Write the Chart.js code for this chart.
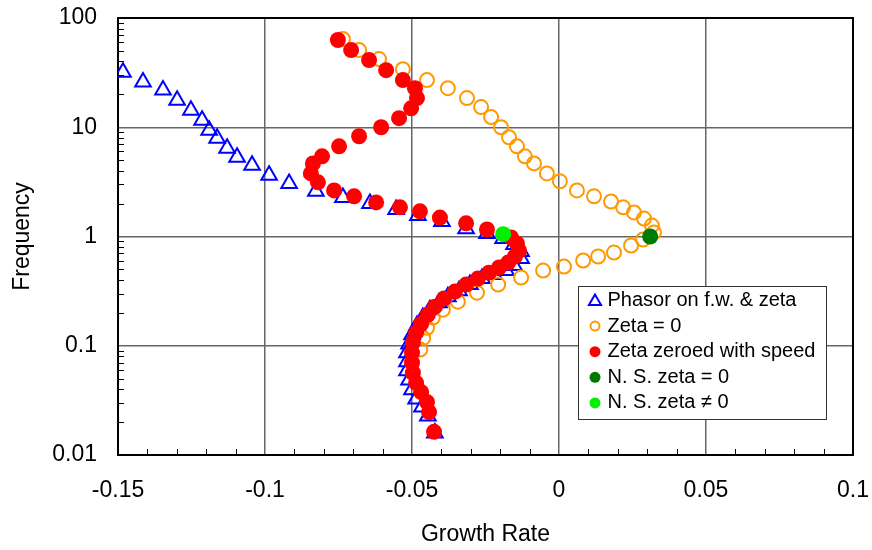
<!DOCTYPE html>
<html><head><meta charset="utf-8">
<script src="https://cdn.jsdelivr.net/npm/chart.js@4"></script>
<style>html,body{margin:0;padding:0;background:#fff}#wrap{width:872px;height:550px;position:relative}</style>
</head><body><div id="wrap"><canvas id="c" width="872" height="550"></canvas></div>
<script>
// ---- data ----
const seriesNames = ['Phasor on f.w. & zeta', 'Zeta = 0', 'Zeta zeroed with speed', 'N. S. zeta = 0', 'N. S. zeta \u2260 0'];
const xTickValues = [-0.15, -0.1, -0.05, 0, 0.05, 0.1];
const xTickLabels = ['-0.15', '-0.1', '-0.05', '0', '0.05', '0.1'];
const yTickValues = [0.01, 0.1, 1, 10, 100];
const yTickLabels = ['0.01', '0.1', '1', '10', '100'];
const xTitle = 'Growth Rate';
const yTitle = 'Frequency';

const phasorX = [-0.1483,-0.1415,-0.1347,-0.1299,-0.1252,-0.1214,-0.1190,-0.1163,-0.1129,-0.1095,-0.1044,-0.0986,-0.0918,-0.0827,-0.0735,-0.0643,-0.0554,-0.0480,-0.0398,-0.0316,-0.0245,-0.0190,-0.0153,-0.0129,-0.0129,-0.0153,-0.0180,-0.0221,-0.0262,-0.0303,-0.0340,-0.0378,-0.0408,-0.0439,-0.0463,-0.0483,-0.0500,-0.0510,-0.0517,-0.0517,-0.0517,-0.0510,-0.0500,-0.0486,-0.0466,-0.0446,-0.0422];
const phasorY = [31.9,25.9,21.9,17.7,14.3,11.6,9.39,7.93,6.42,5.31,4.48,3.63,3.06,2.59,2.28,2.01,1.77,1.56,1.37,1.18,1.065,0.959,0.845,0.729,0.628,0.542,0.488,0.448,0.412,0.363,0.319,0.281,0.248,0.214,0.181,0.153,0.126,0.104,0.0865,0.0712,0.0589,0.0487,0.0395,0.0326,0.0275,0.0228,0.0159];

const zetaX = [-0.0735,-0.0680,-0.0612,-0.0531,-0.0449,-0.0378,-0.0313,-0.0265,-0.0231,-0.0197,-0.0170,-0.0143,-0.0116,-0.0085,-0.0041,0.0003,0.0061,0.0119,0.0177,0.0218,0.0255,0.0289,0.0316,0.0323,0.0286,0.0245,0.0187,0.0133,0.0082,0.0017,-0.0054,-0.0129,-0.0207,-0.0279,-0.0344,-0.0395,-0.0429,-0.0449,-0.0462,-0.0472];
const zetaY = [64.2,50.9,42.1,34.0,27.0,22.8,18.5,15.3,12.4,10.0,8.10,6.69,5.42,4.67,3.78,3.20,2.64,2.33,2.09,1.85,1.66,1.46,1.26,1.09,0.939,0.827,0.713,0.656,0.603,0.530,0.488,0.421,0.363,0.306,0.253,0.214,0.181,0.146,0.118,0.0922];

const zeroedX = [-0.0752,-0.0707,-0.0646,-0.0588,-0.0531,-0.0490,-0.0483,-0.0503,-0.0544,-0.0605,-0.0680,-0.0748,-0.0806,-0.0837,-0.0844,-0.0820,-0.0765,-0.0697,-0.0622,-0.0541,-0.0473,-0.0405,-0.0316,-0.0245,-0.0163,-0.0143,-0.0136,-0.0150,-0.0173,-0.0204,-0.0238,-0.0276,-0.0316,-0.0354,-0.0391,-0.0422,-0.0446,-0.0469,-0.0486,-0.0497,-0.0500,-0.0500,-0.0497,-0.0486,-0.0469,-0.0449,-0.0442,-0.0425];
const zeroedY = [62.9,50.9,41.2,33.3,27.0,22.8,18.5,14.9,12.1,10.0,8.27,6.69,5.42,4.67,3.78,3.13,2.64,2.33,2.05,1.85,1.70,1.49,1.32,1.16,0.98,0.863,0.744,0.656,0.577,0.520,0.467,0.412,0.363,0.313,0.270,0.228,0.193,0.159,0.132,0.107,0.0865,0.0700,0.0566,0.0458,0.0377,0.0305,0.0247,0.0163];

const nsZeta0X = [0.031];
const nsZeta0Y = [1.0];
const nsZetaNzX = [-0.019];
const nsZetaNzY = [1.05];

// ---- styling ----
const FONT = "'Liberation Sans', Arial, sans-serif";
const pts = (xs, ys) => xs.map((x, i) => ({x: x, y: ys[i]}));

const styles = [
  {pointStyle: 'triangle', radius: 9, border: '#0000FF', fill: 'rgba(255,255,255,0)', bw: 2, order: 5, lr: 7},
  {pointStyle: 'circle', radius: 7, border: '#FF9900', fill: 'rgba(255,255,255,0)', bw: 2, order: 4, lr: 4.5},
  {pointStyle: 'circle', radius: 8, border: '#FF0000', fill: '#FF0000', bw: 0, order: 3, lr: 5.5},
  {pointStyle: 'circle', radius: 8, border: '#007A00', fill: '#007A00', bw: 0, order: 2, lr: 5.5},
  {pointStyle: 'circle', radius: 8, border: '#00F000', fill: '#00F000', bw: 0, order: 1, lr: 5.5}
];
const seriesData = [pts(phasorX, phasorY), pts(zetaX, zetaY), pts(zeroedX, zeroedY), pts(nsZeta0X, nsZeta0Y), pts(nsZetaNzX, nsZetaNzY)];

function drawMarker(ctx, st, x, y, r) {
  ctx.save();
  ctx.lineWidth = st.bw;
  ctx.strokeStyle = st.border;
  ctx.fillStyle = st.fill;
  ctx.beginPath();
  if (st.pointStyle === 'triangle') {
    let a = 0;
    ctx.moveTo(x + Math.sin(a) * r, y - Math.cos(a) * r);
    a += 2 * Math.PI / 3;
    ctx.lineTo(x + Math.sin(a) * r, y - Math.cos(a) * r);
    a += 2 * Math.PI / 3;
    ctx.lineTo(x + Math.sin(a) * r, y - Math.cos(a) * r);
    ctx.closePath();
  } else {
    ctx.arc(x, y, r, 0, Math.PI * 2);
  }
  ctx.fill();
  if (st.bw > 0) ctx.stroke();
  ctx.restore();
}

const framePlugin = {
  id: 'frame',
  beforeDatasetsDraw(chart) {
    const ctx = chart.ctx, ca = chart.chartArea, xa = chart.scales.x, ya = chart.scales.y;
    ctx.save();
    ctx.strokeStyle = '#000';
    ctx.lineWidth = 1;
    ctx.beginPath();
    for (let k = 1; k < 25; k++) {
      if (k % 5 === 0) continue;
      const px = Math.round(xa.getPixelForValue(-0.15 + k * 0.01)) + 0.5;
      ctx.moveTo(px, ca.bottom);
      ctx.lineTo(px, ca.bottom - 6);
    }
    for (let d = -2; d <= 1; d++) {
      for (let m = 2; m <= 9; m++) {
        const py = Math.round(ya.getPixelForValue(m * Math.pow(10, d))) + 0.5;
        ctx.moveTo(ca.left, py);
        ctx.lineTo(ca.left + 6, py);
      }
    }
    ctx.stroke();
    ctx.lineWidth = 2;
    ctx.strokeRect(ca.left, ca.top, ca.right - ca.left, ca.bottom - ca.top);
    ctx.restore();
  }
};

const legendPlugin = {
  id: 'customLegend',
  afterDatasetsDraw(chart) {
    const ctx = chart.ctx;
    const bx = 578.5, by = 286.5, bw = 248, bh = 133;
    ctx.save();
    ctx.fillStyle = '#fff';
    ctx.fillRect(bx, by, bw, bh);
    ctx.strokeStyle = '#333';
    ctx.lineWidth = 1;
    ctx.strokeRect(bx, by, bw, bh);
    ctx.font = '20px ' + FONT;
    ctx.textBaseline = 'middle';
    ctx.textAlign = 'left';
    ctx.fillStyle = '#000';
    seriesNames.forEach((name, i) => {
      const y = by + 14 + i * 25.6;
      const st = styles[i];
      drawMarker(ctx, st, bx + 16.5, y + (st.pointStyle === 'triangle' ? 1 : 0), st.lr);
      ctx.fillStyle = '#000';
      ctx.fillText(name, bx + 29, y);
    });
    ctx.restore();
  }
};

new Chart(document.getElementById('c'), {
  type: 'scatter',
  data: {
    datasets: seriesNames.map((name, i) => ({
      label: name,
      data: seriesData[i],
      order: styles[i].order,
      pointStyle: styles[i].pointStyle,
      pointRadius: styles[i].radius,
      pointHoverRadius: styles[i].radius,
      pointBorderWidth: styles[i].bw,
      pointBorderColor: styles[i].border,
      pointBackgroundColor: styles[i].fill,
      showLine: false
    }))
  },
  options: {
    responsive: false,
    devicePixelRatio: 1,
    animation: false,
    events: [],
    layout: {padding: {left: 0, right: 19, top: 18, bottom: 0}},
    plugins: {legend: {display: false}, tooltip: {enabled: false}},
    scales: {
      x: {
        type: 'linear', min: -0.15, max: 0.1,
        afterBuildTicks: s => { s.ticks = xTickValues.map(v => ({value: v})); },
        afterFit: s => { s.height = 95; s.paddingLeft = 0; s.paddingRight = 0; s.paddingTop = 0; s.paddingBottom = 0; },
        ticks: {callback: (v, i) => xTickLabels[i], padding: 22, color: '#000', font: {family: FONT, size: 23}, maxRotation: 0, autoSkip: false},
        grid: {color: '#666', lineWidth: 1.5, drawTicks: false},
        border: {display: true, color: '#000', width: 2},
        title: {display: true, text: xTitle, color: '#000', font: {family: FONT, size: 23}, padding: {top: 0, bottom: 2}}
      },
      y: {
        type: 'logarithmic', min: 0.01, max: 100,
        afterBuildTicks: s => { s.ticks = yTickValues.map(v => ({value: v})); },
        afterFit: s => { s.width = 118; s.paddingLeft = 0; s.paddingRight = 0; s.paddingTop = 0; s.paddingBottom = 0; },
        ticks: {callback: (v, i) => yTickLabels[i], padding: 21, color: '#000', font: {family: FONT, size: 23}, autoSkip: false},
        grid: {color: '#666', lineWidth: 1.5, drawTicks: false},
        border: {display: true, color: '#000', width: 2},
        title: {display: true, text: yTitle, color: '#000', font: {family: FONT, size: 23}, padding: {top: 9, bottom: 0}}
      }
    }
  },
  plugins: [framePlugin, legendPlugin]
});
</script>
</body></html>
